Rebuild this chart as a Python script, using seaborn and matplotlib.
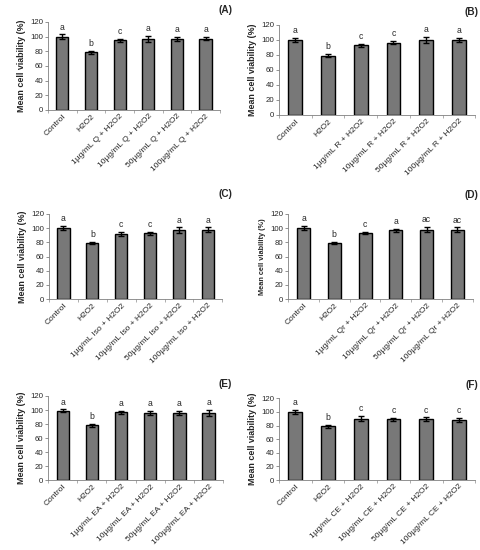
import numpy as np
import pandas as pd
import seaborn as sns
import matplotlib.pyplot as plt

# treatment names per panel
compounds = ["Q", "R", "Iso", "Qr", "EA", "CE"]
panel_tags = ["(A)", "(B)", "(C)", "(D)", "(E)", "(F)"]
doses = ["1", "10", "50", "100"]

# mean viability (%) and error per panel
means_a = [100, 79, 95, 97, 97, 97]
err_a = [3, 2, 2, 4, 3, 2]
means_b = [100, 79, 93, 96, 100, 100]
err_b = [3, 2, 2, 2, 4, 3]
means_c = [100, 79, 92, 93, 97, 98]
err_c = [3, 2, 3, 2, 4, 3]
means_d = [100, 79, 93, 97, 98, 98]
err_d = [3, 2, 1.5, 2, 4, 3]
means_e = [99, 78, 97, 96, 96, 96]
err_e = [2, 2, 2, 3, 3, 4]
means_f = [100, 79, 90, 89, 89, 88]
err_f = [3, 2, 4, 2, 3, 3]

letters_a = ["a", "b", "c", "a", "a", "a"]
letters_b = ["a", "b", "c", "c", "a", "a"]
letters_c = ["a", "b", "c", "c", "a", "a"]
letters_d = ["a", "b", "c", "a", "ac", "ac"]
letters_e = ["a", "b", "a", "a", "a", "a"]
letters_f = ["a", "b", "c", "c", "c", "c"]

all_means = [means_a, means_b, means_c, means_d, means_e, means_f]
all_err = [err_a, err_b, err_c, err_d, err_e, err_f]
all_letters = [letters_a, letters_b, letters_c, letters_d, letters_e, letters_f]

# axes boxes in figure fractions [left, bottom, width, height]
boxes = [
    [0.100, 0.800, 0.357, 0.160],
    [0.580, 0.791, 0.408, 0.164],
    [0.102, 0.456, 0.360, 0.155],
    [0.599, 0.456, 0.384, 0.155],
    [0.100, 0.127, 0.364, 0.153],
    [0.580, 0.127, 0.408, 0.149],
]
# panel tag positions in figure fractions
tag_pos = [(0.483, 0.982), (0.995, 0.978), (0.483, 0.647), (0.995, 0.645),
           (0.483, 0.302), (0.995, 0.300)]

sns.set_style("white")
plt.rcParams['font.family'] = ['Liberation Sans', 'DejaVu Sans']

fig = plt.figure(figsize=(4.81, 5.5), dpi=100)

for i in range(6):
    ax = fig.add_axes(boxes[i])
    cats = ["Control", "H2O2"] + [d + "µg/mL " + compounds[i] + " + H2O2" for d in doses]
    df = pd.DataFrame({"group": cats, "viability": all_means[i]})
    sns.barplot(data=df, x="group", y="viability", color="#787878", edgecolor="black",
                linewidth=1.0, width=0.42, saturation=1, errorbar=None, ax=ax)
    ax.errorbar(np.arange(6), all_means[i], yerr=all_err[i], fmt="none", ecolor="black",
                elinewidth=1.0, capsize=2.5, capthick=1.0)
    for j in range(6):
        ax.text(j, all_means[i][j] + all_err[i][j] + 4, all_letters[i][j],
                ha="center", va="bottom", fontsize=6.2)
    ax.set_xlim(-0.5, 5.5)
    ax.set_ylim(0, 120)
    ax.set_yticks([0, 20, 40, 60, 80, 100, 120])
    ax.set_xticks(np.arange(-0.5, 6, 1), minor=True)
    ax.tick_params(axis="y", labelsize=5.6, length=2, width=0.6, pad=1.5, left=True,
                   color="#808080")
    ax.tick_params(axis="x", which="major", length=0, labelsize=6, pad=2)
    ax.tick_params(axis="x", which="minor", length=2, width=0.6, bottom=True,
                   color="#a0a0a0")
    plt.setp(ax.get_xticklabels(), rotation=45, ha="right", rotation_mode="anchor")
    for s in ["top", "right"]:
        ax.spines[s].set_visible(False)
    for s in ["left", "bottom"]:
        ax.spines[s].set_color("#808080")
        ax.spines[s].set_linewidth(0.6)
    ax.set_xlabel("")
    ysize = 5.3 if i == 3 else 6.4
    ax.set_ylabel("Mean cell viability (%)", fontsize=ysize, fontweight="bold", labelpad=3)
    fig.text(tag_pos[i][0], tag_pos[i][1], panel_tags[i], ha="right", va="center",
             fontsize=7.2, fontweight="bold")

fig.savefig("out.png", dpi=100)
